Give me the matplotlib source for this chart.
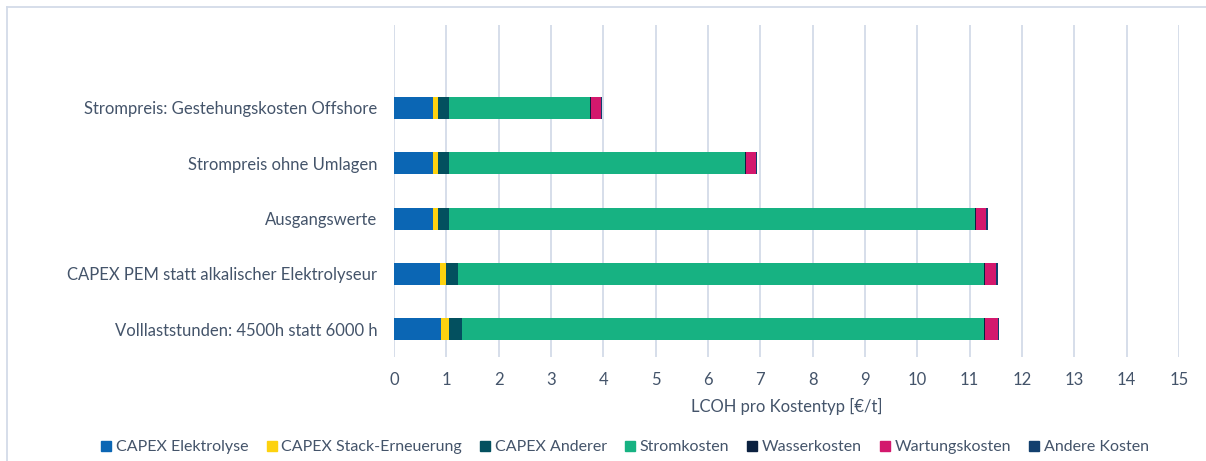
import numpy as np
import matplotlib
matplotlib.use("Agg")
import matplotlib.pyplot as plt
from matplotlib.lines import Line2D

plt.rcParams["font.family"] = ["Lato", "DejaVu Sans"]

# ------------------------------------------------------------
# DATA (bottom -> top)
# ------------------------------------------------------------
scenarios = [
    "Volllaststunden: 4500h statt 6000 h",
    "CAPEX PEM statt alkalischer Elektrolyseur",
    "Ausgangswerte",
    "Strompreis ohne Umlagen",
    "Strompreis: Gestehungskosten Offshore",
]

capex_elektrolyse = [0.905, 0.88, 0.74, 0.74, 0.74]
capex_stack = [0.15, 0.115, 0.11, 0.11, 0.11]
capex_anderer = [0.24, 0.22, 0.21, 0.21, 0.21]
stromkosten = [9.98, 10.06, 10.05, 5.64, 2.68]
wasserkosten = [0.02, 0.02, 0.02, 0.02, 0.02]
wartungskosten = [0.24, 0.21, 0.19, 0.19, 0.19]
andere_kosten = [0.03, 0.03, 0.03, 0.03, 0.03]

cost_types = ["CAPEX Elektrolyse", "CAPEX Stack-Erneuerung", "CAPEX Anderer",
              "Stromkosten", "Wasserkosten", "Wartungskosten", "Andere Kosten"]
series = [capex_elektrolyse, capex_stack, capex_anderer, stromkosten,
          wasserkosten, wartungskosten, andere_kosten]
COLORS = ["#0B66B4", "#FDD20F", "#03505F", "#17B282", "#0B2140", "#D3186D", "#123F6E"]

TEXT = "#44546A"
GRID = "#D3DBE8"

# ------------------------------------------------------------
# FIGURE
# ------------------------------------------------------------
fig = plt.figure(figsize=(12.06, 4.61), dpi=100, facecolor="white")
ax = fig.add_axes([0.3267, 0.2256, 0.6509, 0.7202])

y = np.arange(len(scenarios))
left = np.zeros(len(scenarios))
for name, vals, col in zip(cost_types, series, COLORS):
    vals = np.array(vals)
    ax.barh(y, vals, left=left, height=0.4, color=col, label=name, zorder=3)
    left += vals

ax.set_xlim(0, 15)
ax.set_ylim(-0.5, 5.5)
ax.set_xticks(range(0, 16))
ax.set_yticks(y)
ax.set_yticklabels(scenarios)
ax.tick_params(axis="both", length=0, colors=TEXT, labelsize=12)
ax.tick_params(axis="x", pad=11)
ax.tick_params(axis="y", pad=12)
ax.grid(axis="x", color=GRID, linewidth=1.3, zorder=0)
for s in ax.spines.values():
    s.set_visible(False)

ax.set_xlabel("LCOH pro Kostentyp [€/t]", color=TEXT, fontsize=12, labelpad=7)

handles = [Line2D([], [], marker="s", linestyle="none", markersize=7,
                  markerfacecolor=c, markeredgecolor=c) for c in COLORS]
fig.legend(handles, cost_types, loc="center", bbox_to_anchor=(0.517, 0.03),
           ncol=7, frameon=False, fontsize=11.5, labelcolor=TEXT,
           handletextpad=0.1, columnspacing=0.95, handlelength=1.0)

# chart frame (top and left edges)
fig.add_artist(Line2D([0.006, 1.0], [0.985, 0.985], color=GRID, linewidth=1.3))
fig.add_artist(Line2D([0.006, 0.006], [0.0, 0.985], color=GRID, linewidth=1.3))

plt.savefig("out.png", dpi=100)
